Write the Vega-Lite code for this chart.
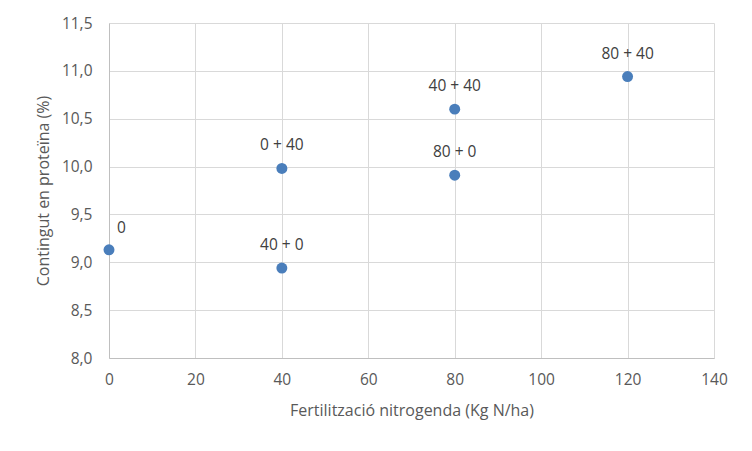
{
  "$schema": "https://vega.github.io/schema/vega-lite/v6.json",
  "width": 605,
  "height": 335,
  "autosize": "none",
  "padding": {"left": 109, "top": 23, "right": 38, "bottom": 93},
  "background": "white",
  "config": {
    "font": "Open Sans",
    "view": {"stroke": null},
    "axis": {
      "labelFont": "Open Sans",
      "titleFont": "Open Sans",
      "labelColor": "#595959",
      "titleColor": "#595959",
      "labelFontSize": 15.5,
      "titleFontSize": 16,
      "titleFontWeight": "normal",
      "gridColor": "#d9d9d9",
      "gridWidth": 1,
      "domainColor": "#bfbfbf",
      "labelFlush": false,
      "ticks": false
    }
  },
  "data": {
    "values": [
      {"n": 0, "proteina": 9.13, "label": "0"},
      {"n": 40, "proteina": 8.94, "label": "40 + 0"},
      {"n": 40, "proteina": 9.98, "label": "0 + 40"},
      {"n": 80, "proteina": 9.91, "label": "80 + 0"},
      {"n": 80, "proteina": 10.6, "label": "40 + 40"},
      {"n": 120, "proteina": 10.94, "label": "80 + 40"}
    ]
  },
  "encoding": {
    "x": {
      "field": "n",
      "type": "quantitative",
      "title": "Fertilització nitrogenda (Kg N/ha)",
      "scale": {"domain": [0, 140], "nice": false},
      "axis": {"values": [0, 20, 40, 60, 80, 100, 120, 140], "labelPadding": 14, "titlePadding": 15}
    },
    "y": {
      "field": "proteina",
      "type": "quantitative",
      "title": "Contingut en proteïna (%)",
      "scale": {"domain": [8, 11.5], "nice": false, "zero": false},
      "axis": {
        "values": [8, 8.5, 9, 9.5, 10, 10.5, 11, 11.5],
        "labelExpr": "replace(format(datum.value, '.1f'), '.', ',')",
        "labelPadding": 17,
        "titlePadding": 10
      }
    }
  },
  "layer": [
    {
      "mark": {"type": "point", "filled": true, "opacity": 1, "size": 120, "color": "#4a7ebb"}
    },
    {
      "transform": [{"filter": "datum.label != '0'"}],
      "mark": {"type": "text", "dy": -23, "fontSize": 15.5, "color": "#404040", "font": "Open Sans"},
      "encoding": {"text": {"field": "label"}}
    },
    {
      "transform": [{"filter": "datum.label == '0'"}],
      "mark": {"type": "text", "dx": 8, "dy": -22, "align": "left", "fontSize": 15.5, "color": "#404040", "font": "Open Sans"},
      "encoding": {"text": {"field": "label"}}
    }
  ]
}
